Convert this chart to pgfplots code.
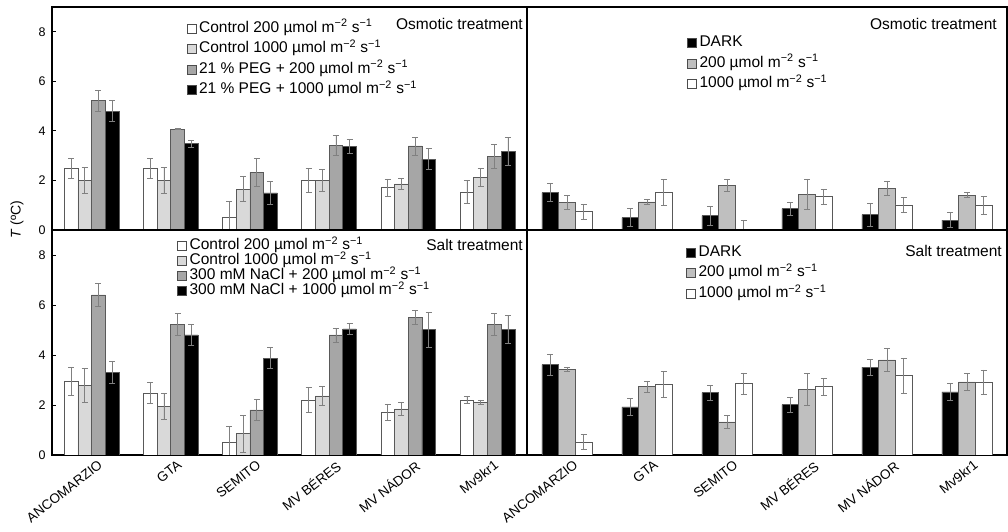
\documentclass[border=0pt]{standalone}
\usepackage{fontspec}
\setmainfont{Liberation Sans}
\usepackage{pgfplots}
\usepackage{pgfplotstable}
\pgfplotsset{compat=1.18}

\definecolor{lg}{HTML}{D9D9D9}
\definecolor{mg}{HTML}{A6A6A6}
\definecolor{rg}{HTML}{BFBFBF}

% top-left: osmotic, control 200, control 1000, PEG+200, PEG+1000
\pgfplotstableread{
x a ea b eb c ec d ed
0 2.50 0.40 2.00 0.52 5.22 0.42 4.80 0.43
1 2.50 0.40 2.00 0.52 4.07 0.02 3.48 0.15
2 0.50 0.65 1.65 0.51 2.33 0.55 1.50 0.47
3 2.00 0.50 2.00 0.45 3.43 0.40 3.36 0.28
4 1.71 0.35 1.86 0.23 3.39 0.36 2.86 0.43
5 1.53 0.46 2.13 0.37 2.97 0.50 3.16 0.56
}\OL
% top-right: osmotic, dark, 200, 1000
\pgfplotstableread{
x a ea b eb c ec
0 1.51 0.37 1.11 0.27 0.74 0.30
1 0.50 0.36 1.13 0.10 1.51 0.52
2 0.58 0.38 1.81 0.24 0.00 0.40
3 0.86 0.26 1.44 0.62 1.35 0.30
4 0.62 0.46 1.69 0.29 1.01 0.30
5 0.40 0.31 1.40 0.10 0.99 0.36
}\OR
% bottom-left: salt
\pgfplotstableread{
x a ea b eb c ec d ed
0 2.96 0.56 2.79 0.68 6.40 0.47 3.29 0.44
1 2.48 0.41 1.95 0.53 5.23 0.43 4.80 0.42
2 0.49 0.65 0.85 0.73 1.80 0.43 3.87 0.42
3 2.19 0.50 2.36 0.37 4.80 0.28 5.04 0.21
4 1.71 0.33 1.84 0.25 5.51 0.28 5.01 0.70
5 2.20 0.15 2.11 0.09 5.23 0.44 5.03 0.55
}\SL
% bottom-right: salt, dark, 200, 1000
\pgfplotstableread{
x a ea b eb c ec
0 3.61 0.43 3.43 0.09 0.51 0.30
1 1.92 0.33 2.73 0.23 2.83 0.51
2 2.49 0.29 1.32 0.27 2.85 0.43
3 2.01 0.30 2.61 0.64 2.73 0.33
4 3.51 0.31 3.80 0.45 3.17 0.71
5 2.52 0.35 2.92 0.33 2.92 0.48
}\SR

\pgfplotsset{
  panel/.style={
    scale only axis, anchor=south west,
    xmin=-0.5, xmax=5.5, ymin=0, ymax=9,
    ybar=0pt,
    axis line style={line width=1.3pt},
    xtick={0,...,5}, major x tick style={draw=none},
    ytick={0,2,4,6,8}, tick align=inside, ytick pos=left,
    major tick length=4pt,
    y tick style={line width=0.8pt, black},
    ticklabel style={font=\fontsize{12.5}{14}\selectfont},
    yticklabel style={xshift=-3pt},
    /pgf/number format/assume math mode=true,
    legend cell align=left,
    legend style={draw=none, fill=none, anchor=north west, inner sep=0pt,
      font=\fontsize{15.5}{17}\selectfont,
      nodes={text height=10.5pt, text depth=3pt, inner sep=1pt},
      /tikz/every odd column/.append style={column sep=2pt}},
  },
  botlabels/.style={
    xticklabels={ANCOMARZIO,GTA,SEMITO,MV BÉRES,MV NÁDOR,Mv9kr1},
    xticklabel style={rotate=38, anchor=north east, inner sep=0pt,
      font=\fontsize{13.5}{15}\selectfont, yshift=-7pt, xshift=2pt},
  },
  bars/.style={draw=black!65, line width=0.6pt,
    /pgfplots/error bars/y dir=both, /pgfplots/error bars/y explicit,
    /pgfplots/error bars/error bar style={line width=0.7pt, black!50},
    /pgfplots/error bars/error mark options={rotate=90, mark size=3pt, line width=0.7pt, black!50},
    /pgfplots/legend image code/.code={\draw[##1, draw=black!70, line width=0.5pt] (0pt,-4.5pt) rectangle (9pt,4.5pt);}
  },
}

\begin{document}
\begin{tikzpicture}
\useasboundingbox (0,0) rectangle (1008pt,532pt);

% top-left
\begin{axis}[panel, at={(52pt,302pt)}, width=475pt, height=223pt,
  xticklabels={}, bar width=13.7pt,
  legend style={at={(rel axis cs:0.283,0.94)}, row sep=5pt}]
\addplot[bars, fill=white] table[x=x, y=a, y error=ea] {\OL};
\addplot[bars, fill=lg] table[x=x, y=b, y error=eb] {\OL};
\addplot[bars, fill=mg] table[x=x, y=c, y error=ec] {\OL};
\addplot[bars, fill=black] table[x=x, y=d, y error=ed] {\OL};
\addlegendentry{Control 200 µmol m\textsuperscript{−2} s\textsuperscript{−1}}
\addlegendentry{Control 1000 µmol m\textsuperscript{−2} s\textsuperscript{−1}}
\addlegendentry{21 \% PEG + 200 µmol m\textsuperscript{−2} s\textsuperscript{−1}}
\addlegendentry{21 \% PEG + 1000 µmol m\textsuperscript{−2} s\textsuperscript{−1}}
\node[anchor=north east, inner sep=0pt, font=\fontsize{15.5}{17}\selectfont] at (rel axis cs:1,1) [xshift=-4pt, yshift=-11pt] {Osmotic treatment};
\end{axis}

% top-right
\begin{axis}[panel, at={(527pt,302pt)}, width=480pt, height=223pt,
  xticklabels={}, ytick=\empty, bar width=16.7pt,
  legend style={at={(rel axis cs:0.333,0.875)}, row sep=5pt}]
\addplot[bars, fill=black] table[x=x, y=a, y error=ea] {\OR};
\addplot[bars, fill=rg] table[x=x, y=b, y error=eb] {\OR};
\addplot[bars, fill=white] table[x=x, y=c, y error=ec] {\OR};
\addlegendentry{DARK}
\addlegendentry{200 µmol m\textsuperscript{−2} s\textsuperscript{−1}}
\addlegendentry{1000 µmol m\textsuperscript{−2} s\textsuperscript{−1}}
\node[anchor=north east, inner sep=0pt, font=\fontsize{15.5}{17}\selectfont] at (rel axis cs:1,1) [xshift=-10pt, yshift=-11pt] {Osmotic treatment};
\end{axis}

% bottom-left
\begin{axis}[panel, botlabels, at={(52pt,77pt)}, width=475pt, height=225pt,
  bar width=13.7pt,
  legend style={at={(rel axis cs:0.263,0.965)}, row sep=-0.5pt}]
\addplot[bars, fill=white] table[x=x, y=a, y error=ea] {\SL};
\addplot[bars, fill=lg] table[x=x, y=b, y error=eb] {\SL};
\addplot[bars, fill=mg] table[x=x, y=c, y error=ec] {\SL};
\addplot[bars, fill=black] table[x=x, y=d, y error=ed] {\SL};
\addlegendentry{Control 200 µmol m\textsuperscript{−2} s\textsuperscript{−1}}
\addlegendentry{Control 1000 µmol m\textsuperscript{−2} s\textsuperscript{−1}}
\addlegendentry{300 mM NaCl + 200 µmol m\textsuperscript{−2} s\textsuperscript{−1}}
\addlegendentry{300 mM NaCl + 1000 µmol m\textsuperscript{−2} s\textsuperscript{−1}}
\node[anchor=north east, inner sep=0pt, font=\fontsize{15.5}{17}\selectfont] at (rel axis cs:1,1) [xshift=-4pt, yshift=-9pt] {Salt treatment};
\end{axis}

% bottom-right
\begin{axis}[panel, botlabels, at={(527pt,77pt)}, width=480pt, height=225pt,
  ytick=\empty, bar width=16.7pt,
  legend style={at={(rel axis cs:0.331,0.935)}, row sep=5pt}]
\addplot[bars, fill=black] table[x=x, y=a, y error=ea] {\SR};
\addplot[bars, fill=rg] table[x=x, y=b, y error=eb] {\SR};
\addplot[bars, fill=white] table[x=x, y=c, y error=ec] {\SR};
\addlegendentry{DARK}
\addlegendentry{200 µmol m\textsuperscript{−2} s\textsuperscript{−1}}
\addlegendentry{1000 µmol m\textsuperscript{−2} s\textsuperscript{−1}}
\node[anchor=north east, inner sep=0pt, font=\fontsize{15.5}{17}\selectfont] at (rel axis cs:1,1) [xshift=-5pt, yshift=-15pt] {Salt treatment};
\end{axis}

\node[rotate=90, inner sep=0pt, font=\fontsize{14}{16}\selectfont] at (17pt,312pt) {\textit{T} (ºC)};
\end{tikzpicture}
\end{document}
